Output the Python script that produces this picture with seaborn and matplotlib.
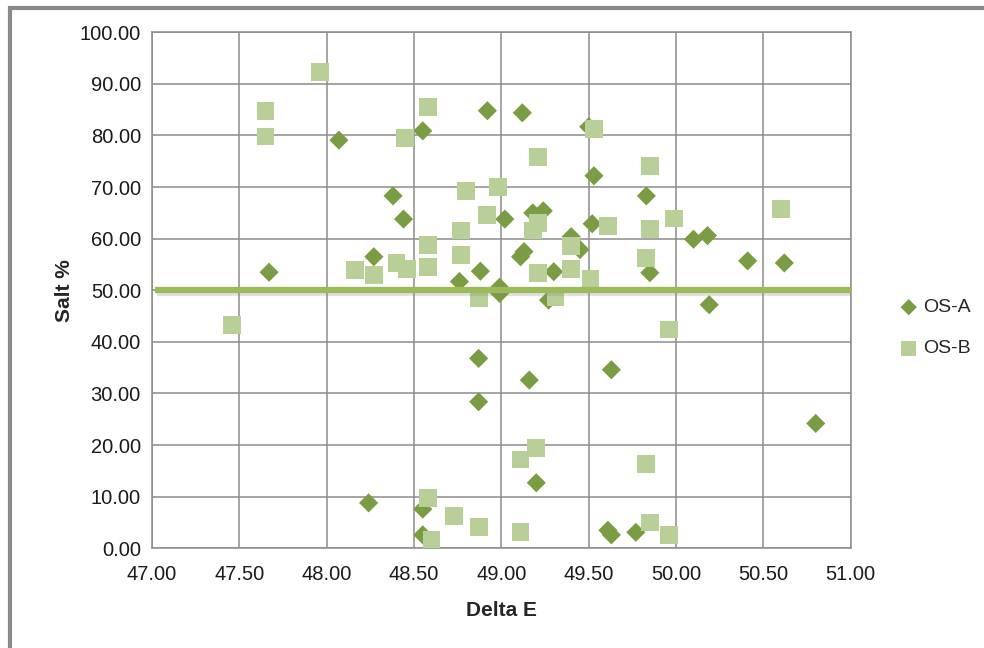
import matplotlib
matplotlib.use("Agg")
import matplotlib.pyplot as plt
import matplotlib.patheffects as pe
from matplotlib.patches import Rectangle
import seaborn as sns
import pandas as pd

# ---- data ----
osa_x = [47.67, 48.07, 48.27, 48.38, 48.44, 48.55, 48.92, 49.12, 49.50, 49.53,
         49.02, 49.18, 49.24, 49.52, 49.83, 49.40, 49.45, 49.13, 49.11, 48.88,
         48.76, 49.30, 48.99, 48.99, 49.27, 49.85, 50.10, 50.18, 50.41, 50.62,
         50.19, 48.87, 48.87, 48.24, 48.55, 48.55, 49.16, 49.63, 50.80, 49.20,
         49.61, 49.63, 49.77]
osa_y = [53.5, 79.1, 56.5, 68.3, 63.8, 80.9, 84.8, 84.4, 81.7, 72.2,
         63.8, 65.0, 65.4, 62.9, 68.3, 60.4, 57.9, 57.5, 56.5, 53.7,
         51.7, 53.6, 50.6, 49.4, 48.1, 53.4, 59.9, 60.6, 55.7, 55.3,
         47.2, 36.8, 28.4, 8.8, 7.6, 2.6, 32.6, 34.6, 24.2, 12.7,
         3.5, 2.6, 3.1]

osb_x = [47.96, 47.65, 47.65, 48.45, 48.58, 49.53, 49.21, 48.80, 48.98, 48.92,
         49.21, 49.18, 49.61, 48.77, 48.58, 48.77, 49.40, 48.58, 48.40, 48.46,
         48.16, 48.27, 49.21, 49.40, 49.51, 48.87, 49.31, 49.85, 49.85, 49.99,
         50.60, 49.83, 49.96, 47.46, 48.58, 48.73, 48.87, 48.60, 49.20, 49.11,
         49.83, 49.11, 49.85, 49.96]
osb_y = [92.3, 84.7, 79.8, 79.5, 85.5, 81.3, 75.8, 69.2, 70.1, 64.6,
         63.1, 61.6, 62.5, 61.6, 58.7, 56.9, 58.6, 54.5, 55.3, 54.1,
         54.0, 53.0, 53.3, 54.1, 52.3, 48.4, 48.6, 74.1, 61.9, 63.9,
         65.8, 56.2, 42.4, 43.2, 9.7, 6.3, 4.1, 1.7, 19.5, 17.2,
         16.3, 3.2, 5.0, 2.6]

line_x = [47.02, 51.0]
line_y = [50.0, 50.0]

x_ticks = [47.0, 47.5, 48.0, 48.5, 49.0, 49.5, 50.0, 50.5, 51.0]
y_ticks = [0, 10, 20, 30, 40, 50, 60, 70, 80, 90, 100]

series_names = ["OS-A", "OS-B"]
x_label = "Delta E"
y_label = "Salt %"

# ---- style ----
sns.set_theme(style="white")
plt.rcParams['font.family'] = ['Liberation Sans', 'DejaVu Sans']

col_a = "#7A9C43"
col_b = "#B8CF98"
col_line = "#9BBB59"
grid_col = "#8C8C8C"

fig = plt.figure(figsize=(9.84, 6.48), dpi=100)
ax = fig.add_axes([152/984, 1 - 548.3/648, (850.7 - 152)/984, (548.3 - 32.3)/648])

df_a = pd.DataFrame({"x": osa_x, "y": osa_y})
df_b = pd.DataFrame({"x": osb_x, "y": osb_y})

sns.scatterplot(data=df_a, x="x", y="y", ax=ax, marker="D", s=95, color=col_a,
                edgecolor="none", linewidth=0, label=series_names[0], zorder=3)
sns.scatterplot(data=df_b, x="x", y="y", ax=ax, marker="s", s=165, color=col_b,
                edgecolor="none", linewidth=0, label=series_names[1], zorder=4)
ax.plot(line_x, line_y, color=col_line, lw=4.5, zorder=5, solid_capstyle="butt",
        path_effects=[pe.SimpleLineShadow(offset=(1, -2), shadow_color="#888888", alpha=0.25),
                      pe.Normal()])

ax.set_xlim(x_ticks[0], x_ticks[-1])
ax.set_ylim(y_ticks[0], y_ticks[-1])
ax.set_xticks(x_ticks)
ax.set_yticks(y_ticks)
ax.set_xticklabels([f"{v:.2f}" for v in x_ticks], fontsize=14.5, color="#1a1a1a")
ax.set_yticklabels([f"{v:.2f}" for v in y_ticks], fontsize=14.5, color="#1a1a1a")
ax.tick_params(axis="both", length=0, pad=8)
ax.tick_params(axis="x", pad=12)
ax.grid(True, color=grid_col, lw=1.1)
ax.set_axisbelow(True)
for s in ax.spines.values():
    s.set_color(grid_col)
    s.set_linewidth(1.1)

ax.set_xlabel(x_label, fontsize=15, fontweight="bold", labelpad=12)
ax.set_ylabel(y_label, fontsize=15, fontweight="bold", labelpad=4)

leg = ax.legend(loc="center left", bbox_to_anchor=(1.058, 0.427), frameon=False,
                fontsize=14, handletextpad=0.25, labelspacing=1.2, markerscale=0.85,
                handlelength=1.0, borderaxespad=0)

# outer chart-area border
fig.patches.append(Rectangle((10/984, -0.1), 1.2, 1 - 8/648 + 0.1,
                             transform=fig.transFigure, fill=False,
                             edgecolor="#8a8a8a", lw=3, zorder=0))

fig.savefig("out.png", dpi=100)
